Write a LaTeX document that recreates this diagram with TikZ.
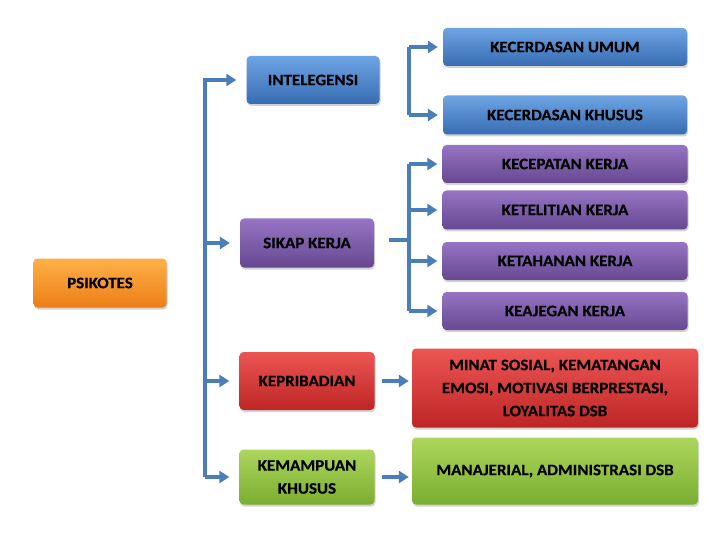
\documentclass[tikz,border=0pt]{standalone}
\usepackage{fontspec}
\setmainfont{Carlito}[FakeStretch=1.06, BoldFeatures={FakeBold=0.5}]
\usepackage{tikz}
\usetikzlibrary{arrows.meta,shadows,calc}
\definecolor{linkblue}{RGB}{74,126,187}
\definecolor{blueTop}{RGB}{110,165,228}
\definecolor{blueBot}{RGB}{55,108,178}
\definecolor{purpTop}{RGB}{150,116,196}
\definecolor{purpBot}{RGB}{102,72,145}
\definecolor{redTop}{RGB}{235,85,82}
\definecolor{redBot}{RGB}{190,38,38}
\definecolor{greenTop}{RGB}{172,214,92}
\definecolor{greenBot}{RGB}{122,174,48}
\definecolor{orangeTop}{RGB}{255,176,72}
\definecolor{orangeBot}{RGB}{236,126,22}

\tikzset{
  box/.style={rounded corners=4pt, align=center, inner sep=2pt,
    font=\fontsize{16}{23}\selectfont\bfseries,
    drop shadow={opacity=0.35, shadow xshift=1pt, shadow yshift=-2pt}},
  bluebox/.style={box, top color=blueTop, bottom color=blueBot},
  purpbox/.style={box, top color=purpTop, bottom color=purpBot},
  redbox/.style={box, top color=redTop, bottom color=redBot},
  greenbox/.style={box, top color=greenTop, bottom color=greenBot},
  orangebox/.style={box, top color=orangeTop, bottom color=orangeBot},
  link/.style={draw=linkblue, line width=4pt},
  arr/.style={link, -{Triangle[width=12pt,length=10pt]}}
}

\begin{document}
\begin{tikzpicture}[x=1pt,y=-1pt]
  \useasboundingbox (0,0) rectangle (720,540);

  % root
  \node[orangebox, minimum width=133pt, minimum height=49pt] (psi) at (100,283) {PSIKOTES};

  % second level
  \node[bluebox, minimum width=133pt, minimum height=48pt] (intel) at (313,80) {INTELEGENSI};
  \node[purpbox, minimum width=134pt, minimum height=49pt] (sikap) at (307,243) {SIKAP KERJA};
  \node[redbox, minimum width=135pt, minimum height=58pt] (pribadi) at (307,381) {KEPRIBADIAN};
  \node[greenbox, minimum width=135pt, minimum height=55pt] (mampu) at (307,477) {KEMAMPUAN\\KHUSUS};

  % third level
  \node[bluebox, minimum width=244pt, minimum height=38pt] (umum) at (565,47) {KECERDASAN UMUM};
  \node[bluebox, minimum width=244pt, minimum height=39pt] (khusus) at (565,115) {KECERDASAN KHUSUS};
  \node[purpbox, minimum width=245pt, minimum height=38pt] (cepat) at (565,164) {KECEPATAN KERJA};
  \node[purpbox, minimum width=245pt, minimum height=39pt] (teliti) at (565,210) {KETELITIAN KERJA};
  \node[purpbox, minimum width=245pt, minimum height=38pt] (tahan) at (565,261) {KETAHANAN KERJA};
  \node[purpbox, minimum width=245pt, minimum height=38pt] (ajeg) at (565,311) {KEAJEGAN KERJA};
  \node[redbox, minimum width=286pt, minimum height=79pt] (minat) at (555,388)
    {MINAT SOSIAL, KEMATANGAN\\EMOSI, MOTIVASI BERPRESTASI,\\LOYALITAS DSB};
  \node[greenbox, minimum width=286pt, minimum height=67pt] (manaj) at (555,471) {MANAJERIAL, ADMINISTRASI DSB};

  % spines
  \coordinate (sp) at (205,0);
  \coordinate (sq) at (409,0);

  \draw[link] ($(intel.west -| sp)+(0,-2)$) -- (mampu.west -| sp);
  \foreach \n in {intel,sikap,pribadi,mampu}
    \draw[arr, shorten >=10pt] (\n.west -| sp) -- (\n.west);

  \draw[link] (umum.west -| sq) -- (khusus.west -| sq);
  \foreach \n in {umum,khusus}
    \draw[arr, shorten >=5pt] (\n.west -| sq) -- (\n.west);

  \draw[link, shorten <=15pt] ($(sikap.east)+(0,-3)$) -- ($(sikap.east -| sq)+(0,-3)$);
  \draw[link] (cepat.west -| sq) -- (ajeg.west -| sq);
  \foreach \n in {cepat,teliti,tahan,ajeg}
    \draw[arr, shorten >=5pt] (\n.west -| sq) -- (\n.west);

  \draw[arr, shorten <=7pt, shorten >=3pt] (pribadi.east) -- (pribadi.east -| minat.west);
  \draw[arr, shorten <=7pt, shorten >=3pt] (mampu.east) -- (mampu.east -| manaj.west);
\end{tikzpicture}
\end{document}
